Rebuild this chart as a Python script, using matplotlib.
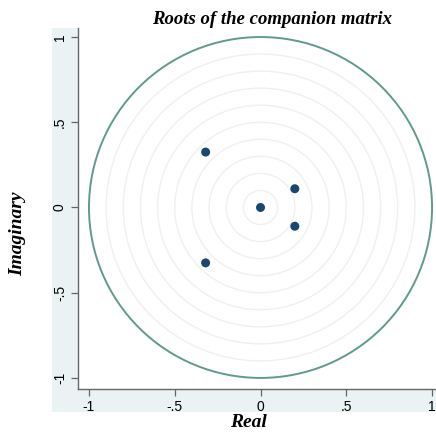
import numpy as np
import matplotlib.pyplot as plt
from matplotlib.patches import Circle, Rectangle


# eigenvalues of the companion matrix
root_real = [0.0, 0.20, 0.20, -0.32, -0.32]
root_imag = [0.0, 0.11, -0.11, 0.325, -0.325]

ring_radii = [0.1, 0.2, 0.3, 0.4, 0.5, 0.6, 0.7, 0.8, 0.9]
unit_radius = 1.0

tick_values = [-1, -0.5, 0, 0.5, 1]
tick_labels = ['-1', '-.5', '0', '.5', '1']

__navy = '#1a476f'
__teal = '#5f9a8e'
__band = '#eaf2f3'
__axis = '#666666'

serif = ['Liberation Serif', 'DejaVu Serif']
sans = ['Liberation Sans', 'DejaVu Sans']


fig = plt.figure(figsize=(4.36, 4.32), dpi=100)
fig.patch.set_facecolor('white')

# light band behind the axis labels
fig.patches.append(Rectangle(
    (52 / 436, 1 - 412 / 432), (436 - 52) / 436, (412 - 28) / 432,
    transform=fig.transFigure, facecolor=__band, edgecolor='none', zorder=-5
))

ax = fig.add_axes([78 / 436, 1 - 389 / 432, (436 - 78) / 436, (389 - 28) / 432])
ax.set_zorder(1)
ax.set_facecolor('white')
ax.set_xlim(-1.064, 1.023)
ax.set_ylim(-1.065, 1.053)

for r in ring_radii:
    ax.add_patch(Circle((0, 0), r, fill=False, edgecolor='#f0f0f0', lw=1.0, zorder=1))
ax.add_patch(Circle((0, 0), unit_radius, fill=False, edgecolor=__teal, lw=1.4, zorder=2))

ax.scatter(root_real, root_imag, s=42, color=__navy, edgecolors='none', zorder=3)

for side in ['top', 'right']:
    ax.spines[side].set_visible(False)
for side in ['left', 'bottom']:
    ax.spines[side].set_color(__axis)
    ax.spines[side].set_linewidth(1.0)

ax.set_xticks(tick_values)
ax.set_xticklabels(tick_labels, family=sans, fontsize=10)
ax.set_yticks(tick_values)
ax.set_yticklabels(tick_labels, family=sans, fontsize=10, rotation=90, va='center')
ax.tick_params(direction='out', length=5, width=0.9, color=__axis, pad=3)

ax.set_xlabel('Real', family=serif, style='italic', weight='bold', fontsize=14)
ax.xaxis.set_label_coords(0.475, -0.068)
ax.set_ylabel('Imaginary', family=serif, style='italic', weight='bold', fontsize=14)
ax.yaxis.set_label_coords(-0.145, 0.43)
ax.set_title('Roots of the companion matrix', family=serif, style='italic',
             weight='bold', fontsize=13.5, pad=1, x=0.542)

fig.savefig('out.png', dpi=100)
